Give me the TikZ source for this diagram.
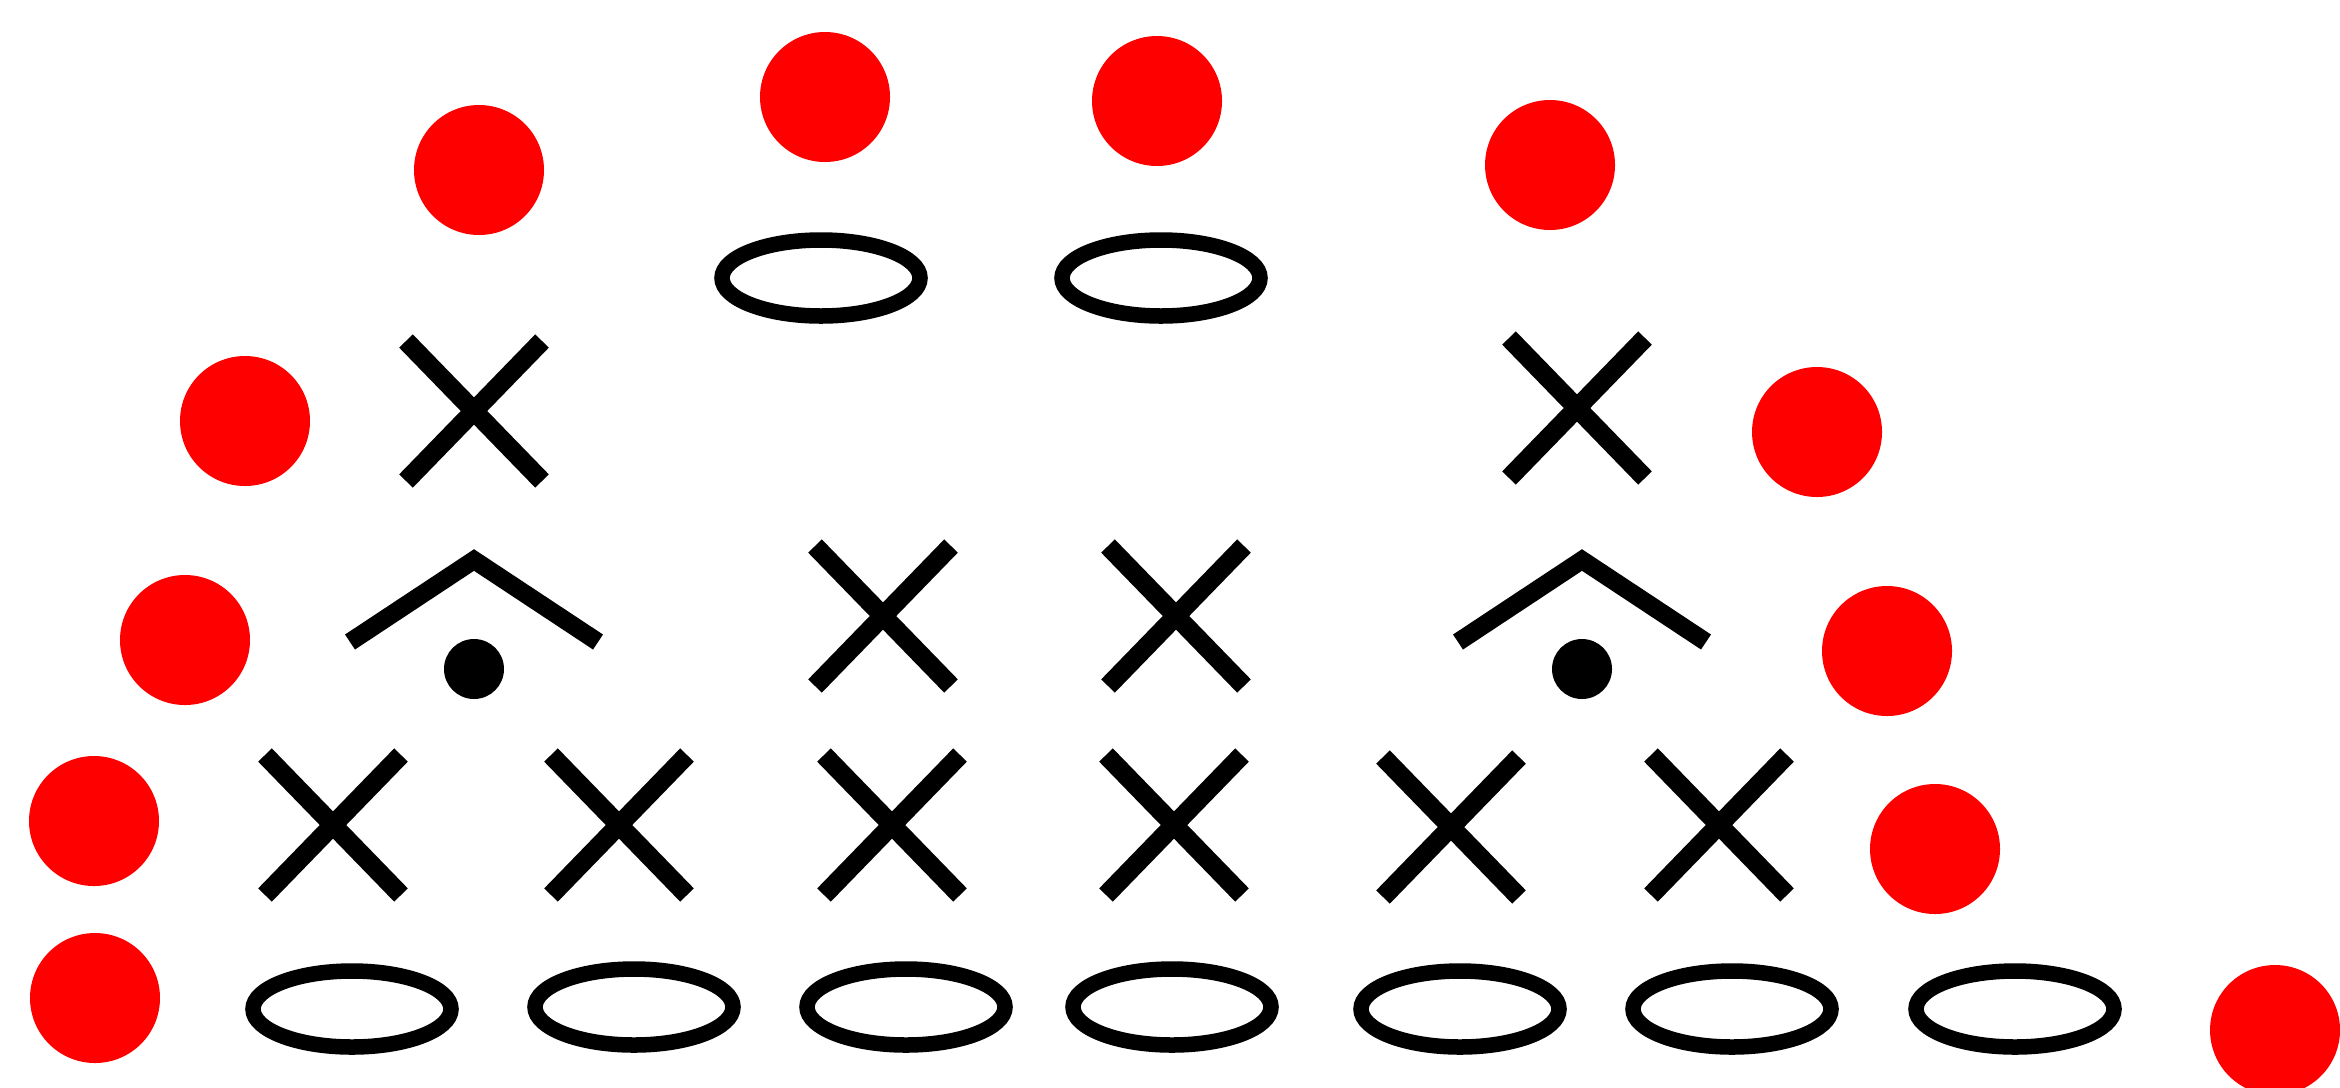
\documentclass[tikz,border=0pt]{standalone}
\begin{document}
\begin{tikzpicture}[x=0.01cm,y=-0.01cm,
  reddot/.style={fill=red,draw=none},
  chain/.style={draw=black,line width=0.155cm},
  scst/.style={draw=black,line width=0.19cm,line cap=butt},
  dec/.style={draw=black,line width=0.18cm,line join=miter,line cap=butt}]
\useasboundingbox (0,0) rectangle (2340,1087);
\clip (0,0) rectangle (2340,1087);
% red dots
\foreach \x/\y in {479/170,825/97,1157/101,1550/165,245/421,1817/432,185/640,1887/651,94/821,1935/849,95/998,2275/1030}
  \fill[reddot] (\x,\y) circle [radius=65];
% chain ellipses
\foreach \x/\y in {821/278,1161/278,352/1009,634/1007,906/1007,1172/1007,1460/1009,1732/1009,2015/1009}
  \draw[chain] (\x,\y) ellipse [x radius=99, y radius=38];
% single crochet X marks
\foreach \x/\y in {474/411,1577/408,883/616,1176/616,333/825,619/825,892/825,1174/825,1451/827,1719/825}
  \draw[scst] (\x-68,\y-70) -- (\x+68,\y+70) (\x+68,\y-70) -- (\x-68,\y+70);
% decrease hats with dots
\foreach \x in {474,1582}{
  \draw[dec] (\x-124,642) -- (\x,560) -- (\x+124,642);
  \fill (\x,669) circle [radius=30];
}
\end{tikzpicture}
\end{document}
